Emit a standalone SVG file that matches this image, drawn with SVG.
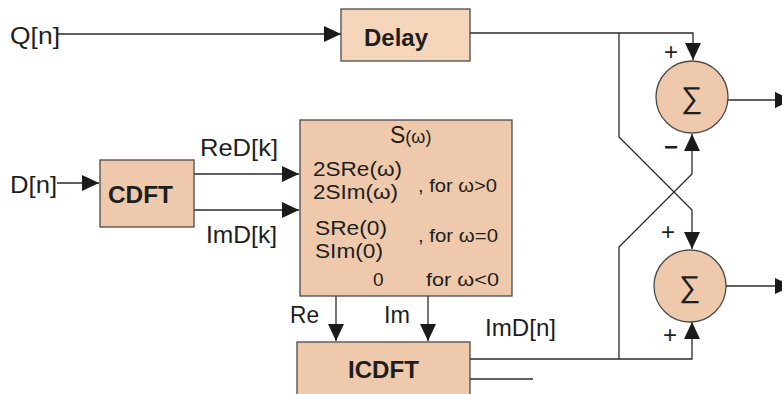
<svg xmlns="http://www.w3.org/2000/svg" width="782" height="394" viewBox="0 0 782 394">
<defs>
<marker id="ah" markerWidth="17" markerHeight="16" refX="17" refY="8" orient="auto" markerUnits="userSpaceOnUse">
<path d="M0,0 L17,8 L0,16 Z" fill="#1a1a1a"/>
</marker>
<style>
.box{fill:#efc9ab;stroke:#4a4a4a;stroke-width:1.3}
.lt{fill:#f5d6bb}
.ln{fill:none;stroke:#2a2a2a;stroke-width:1.3}
.t{font-family:"Liberation Sans",Arial,sans-serif;fill:#1e1e1e;font-size:24px}
.b{font-weight:bold}
.m{font-size:21px}
.s{font-size:19px}
.sig{font-family:"DejaVu Sans",sans-serif;font-size:30px;fill:#1e1e1e;font-weight:200}
</style>
</defs>
<rect width="782" height="394" fill="#fff"/>

<g id="connectors">
<path class="ln" d="M58,34 H341" marker-end="url(#ah)"/>
<path class="ln" d="M470,33 H693 V60" marker-end="url(#ah)"/>
<path class="ln" d="M619,33 V137 L692,210 V249" marker-end="url(#ah)"/>
<path class="ln" d="M470,359 H692 V322" marker-end="url(#ah)"/>
<path class="ln" d="M619,359 V247 L692,174 V134" marker-end="url(#ah)"/>
<path class="ln" d="M470,379 H533"/>
<path class="ln" d="M727,100 H792" marker-end="url(#ah)"/>
<path class="ln" d="M726,286 H792" marker-end="url(#ah)"/>
<path class="ln" d="M57,183 H99" marker-end="url(#ah)"/>
<path class="ln" d="M194,174 H299" marker-end="url(#ah)"/>
<path class="ln" d="M194,210 H299" marker-end="url(#ah)"/>
<path class="ln" d="M336,296 V341" marker-end="url(#ah)"/>
<path class="ln" d="M428,296 V341" marker-end="url(#ah)"/>
</g>

<g id="labels">
<text class="t" x="10" y="44" textLength="50" lengthAdjust="spacingAndGlyphs">Q[n]</text>
<text class="t" x="10" y="193" textLength="47" lengthAdjust="spacingAndGlyphs">D[n]</text>
<text class="t" x="200" y="156" textLength="78" lengthAdjust="spacingAndGlyphs">ReD[k]</text>
<text class="t" x="206" y="243" textLength="71" lengthAdjust="spacingAndGlyphs">ImD[k]</text>
<text class="t" x="290" y="323" textLength="29" lengthAdjust="spacingAndGlyphs">Re</text>
<text class="t" x="384" y="323" textLength="26" lengthAdjust="spacingAndGlyphs">Im</text>
<text class="t" x="485" y="336" textLength="71" lengthAdjust="spacingAndGlyphs">ImD[n]</text>
<text class="t" x="671" y="60" text-anchor="middle">+</text>
<text class="t b" x="671" y="155" text-anchor="middle">−</text>
<text class="t" x="668" y="240" text-anchor="middle">+</text>
<text class="t" x="670" y="343" text-anchor="middle">+</text>
</g>

<g id="delay">
<rect class="box lt" x="341" y="9" width="129" height="52"/>
<text class="t b" x="364" y="46" textLength="64" lengthAdjust="spacingAndGlyphs">Delay</text>
</g>

<g id="cdft">
<rect class="box" x="100" y="160" width="94" height="67"/>
<text class="t b" x="108" y="203" textLength="65" lengthAdjust="spacingAndGlyphs">CDFT</text>
</g>

<g id="spectrum">
<rect class="box" x="300" y="120" width="212" height="176"/>
<text class="t" x="390" y="143"><tspan style="font-size:23px">S</tspan><tspan style="font-size:18px">(ω)</tspan></text>
<text class="t m" x="313" y="176" textLength="89" lengthAdjust="spacingAndGlyphs">2SRe(ω)</text>
<text class="t m" x="313" y="199" textLength="85" lengthAdjust="spacingAndGlyphs">2SIm(ω)</text>
<text class="t s" x="418" y="192" textLength="79" lengthAdjust="spacingAndGlyphs">, for ω&gt;0</text>
<text class="t m" x="315" y="235" textLength="72" lengthAdjust="spacingAndGlyphs">SRe(0)</text>
<text class="t m" x="315" y="258" textLength="68" lengthAdjust="spacingAndGlyphs">SIm(0)</text>
<text class="t s" x="418" y="242" textLength="80" lengthAdjust="spacingAndGlyphs">, for ω=0</text>
<text class="t s" x="373" y="286">0</text>
<text class="t s" x="426" y="286" textLength="73" lengthAdjust="spacingAndGlyphs">for  ω&lt;0</text>
</g>

<g id="icdft">
<rect class="box" x="297" y="342" width="173" height="60"/>
<text class="t b" x="348" y="378" textLength="71" lengthAdjust="spacingAndGlyphs">ICDFT</text>
</g>

<g id="sum1">
<circle class="box" cx="692" cy="97" r="36"/>
<text class="sig" x="692" y="108" text-anchor="middle">∑</text>
</g>

<g id="sum2">
<circle class="box" cx="690" cy="286" r="36"/>
<text class="sig" x="690" y="297" text-anchor="middle">∑</text>
</g>
</svg>
